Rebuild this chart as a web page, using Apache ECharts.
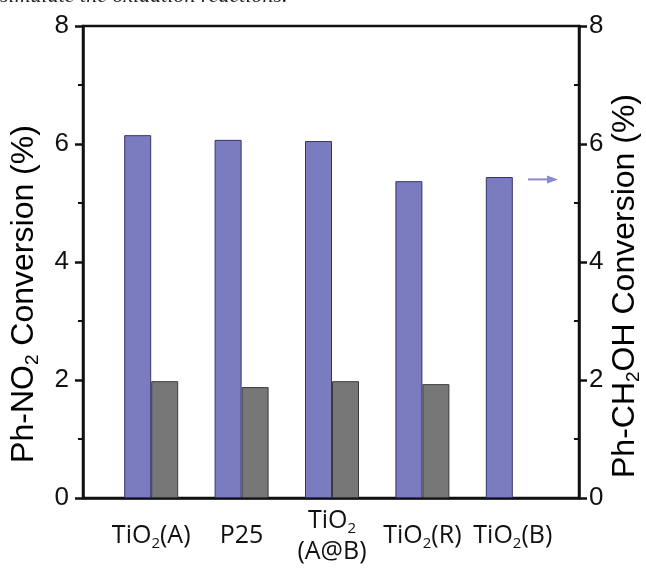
<!DOCTYPE html>
<html>
<head>
<meta charset="utf-8">
<script src="https://cdn.jsdelivr.net/npm/echarts@6/dist/echarts.min.js"></script>
<style>
html,body{margin:0;padding:0;background:#fff;}
#chart{width:646px;height:571px;}
</style>
</head>
<body>
<div id="chart"></div>
<script>
// ---- data ----
const categories = ['TiO2(A)', 'P25', 'TiO2(A@B)', 'TiO2(R)', 'TiO2(B)'];
const xTickLabels = [
  '{n|TiO}{s|2}{n|(A)}',
  '{n|P25}',
  '{n|TiO}{s|2}\n{n|(A@B)}',
  '{n|TiO}{s|2}{n|(R)}',
  '{n|TiO}{s|2}{n|(B)}'
];
const phCH2OH = [6.15, 6.07, 6.05, 5.37, 5.44];   // blue, right axis
const phNO2 = [1.98, 1.88, 1.98, 1.93, null];      // gray, left axis
const yTicks = [0, 2, 4, 6, 8];

const chart = echarts.init(document.getElementById('chart'), null, {renderer: 'canvas'});
const axisColor = '#111';
const labelFont = 'Liberation Sans, Arial, sans-serif';
const xFont = 'Open Sans, sans-serif';

const option = {
  animation: false,
  backgroundColor: '#fff',
  grid: [
    {left: 83, right: 67, top: 26, bottom: 73, show: true, borderColor: axisColor, borderWidth: 2.5, backgroundColor: 'transparent'},
    {left: 106, right: 88, top: 26, bottom: 73}
  ],
  xAxis: [
    {gridIndex: 0, type: 'value', min: 0, max: 1, axisLine: {show: true, lineStyle: {color: axisColor, width: 2.5}},
     axisTick: {show: false}, axisLabel: {show: false}, splitLine: {show: false}},
    {gridIndex: 1, type: 'category', data: categories,
     axisLine: {show: false}, axisTick: {show: false}, splitLine: {show: false},
     axisLabel: {
       interval: 0, margin: 38, verticalAlign: 'middle',
       formatter: function (v, i) { return xTickLabels[i]; },
       rich: {
         n: {fontFamily: xFont, fontSize: 25, color: '#111', lineHeight: 31},
         s: {fontFamily: xFont, fontSize: 15, color: '#111', lineHeight: 9, verticalAlign: 'bottom'}
       }
     }}
  ],
  yAxis: [
    {gridIndex: 0, type: 'value', position: 'left', min: 0, max: 8, interval: 2,
     axisLine: {show: true, lineStyle: {color: axisColor, width: 2.5}},
     axisTick: {show: true, length: 8, lineStyle: {color: axisColor, width: 2.5}},
     minorTick: {show: true, splitNumber: 2, length: 5, lineStyle: {color: axisColor, width: 2}},
     axisLabel: {margin: 14, fontFamily: labelFont, fontSize: 26, color: '#111',
       formatter: function (v) { return yTicks.indexOf(v) >= 0 ? String(v) : ''; }},
     splitLine: {show: false}},
    {gridIndex: 0, type: 'value', position: 'right', min: 0, max: 8, interval: 2,
     axisLine: {show: true, lineStyle: {color: axisColor, width: 2.5}},
     axisTick: {show: true, length: 8, lineStyle: {color: axisColor, width: 2.5}},
     minorTick: {show: false},
     axisLabel: {margin: 10, fontFamily: labelFont, fontSize: 26, color: '#111'},
     splitLine: {show: false}},
    {gridIndex: 0, type: 'value', position: 'right', min: 0, max: 8, interval: 2,
     axisLine: {show: false},
     axisTick: {show: false, inside: true},
     minorTick: {show: true, splitNumber: 2, length: 5, lineStyle: {color: axisColor, width: 2}},
     axisLabel: {show: false}, splitLine: {show: false}},
    {gridIndex: 1, type: 'value', min: 0, max: 8, show: false, splitLine: {show: false}}
  ],
  series: [
    {name: 'Ph-CH2OH', type: 'bar', xAxisIndex: 1, yAxisIndex: 3, data: phCH2OH,
     barWidth: 27, barGap: '0%',
     itemStyle: {color: '#7b7bc0', borderColor: '#34346e', borderWidth: 1}},
    {name: 'Ph-NO2', type: 'bar', xAxisIndex: 1, yAxisIndex: 3, data: phNO2,
     barWidth: 27, barGap: '0%',
     itemStyle: {color: '#777777', borderColor: '#3a3a3a', borderWidth: 1}}
  ]
};
chart.setOption(option);

// annotations: titles, arrow, cut-off caption text
const yArrow = chart.convertToPixel({yAxisIndex: 1}, 5.4);
const subText = function (main, sub, rest) { return '{n|' + main + '}{s|' + sub + '}{n|' + rest + '}'; };
const titleRich = {
  n: {fontFamily: labelFont, fontSize: 32, color: '#111', lineHeight: 36},
  s: {fontFamily: labelFont, fontSize: 19, color: '#111', lineHeight: 12, verticalAlign: 'bottom'}
};
chart.setOption({
  graphic: [
    {type: 'text', left: 0, top: -15, style: {text: 'simulate the oxidation reactions.', font: 'italic 22px Liberation Serif, serif', fill: '#222'}},
    {type: 'text', x: 24, y: 294, rotation: Math.PI / 2,
     style: {text: subText('Ph-NO', '2', ' Conversion (%)'), rich: titleRich, align: 'center', verticalAlign: 'middle'}},
    {type: 'text', x: 625, y: 286, rotation: Math.PI / 2,
     style: {text: subText('Ph-CH', '2', 'OH Conversion (%)'), rich: titleRich, align: 'center', verticalAlign: 'middle'}},
    {type: 'line', shape: {x1: 528, y1: yArrow, x2: 549, y2: yArrow}, style: {stroke: '#8a8ad2', lineWidth: 2}},
    {type: 'polygon', shape: {points: [[558, yArrow], [547, yArrow - 4], [547, yArrow + 4]]}, style: {fill: '#8a8ad2'}}
  ]
});
</script>
</body>
</html>
